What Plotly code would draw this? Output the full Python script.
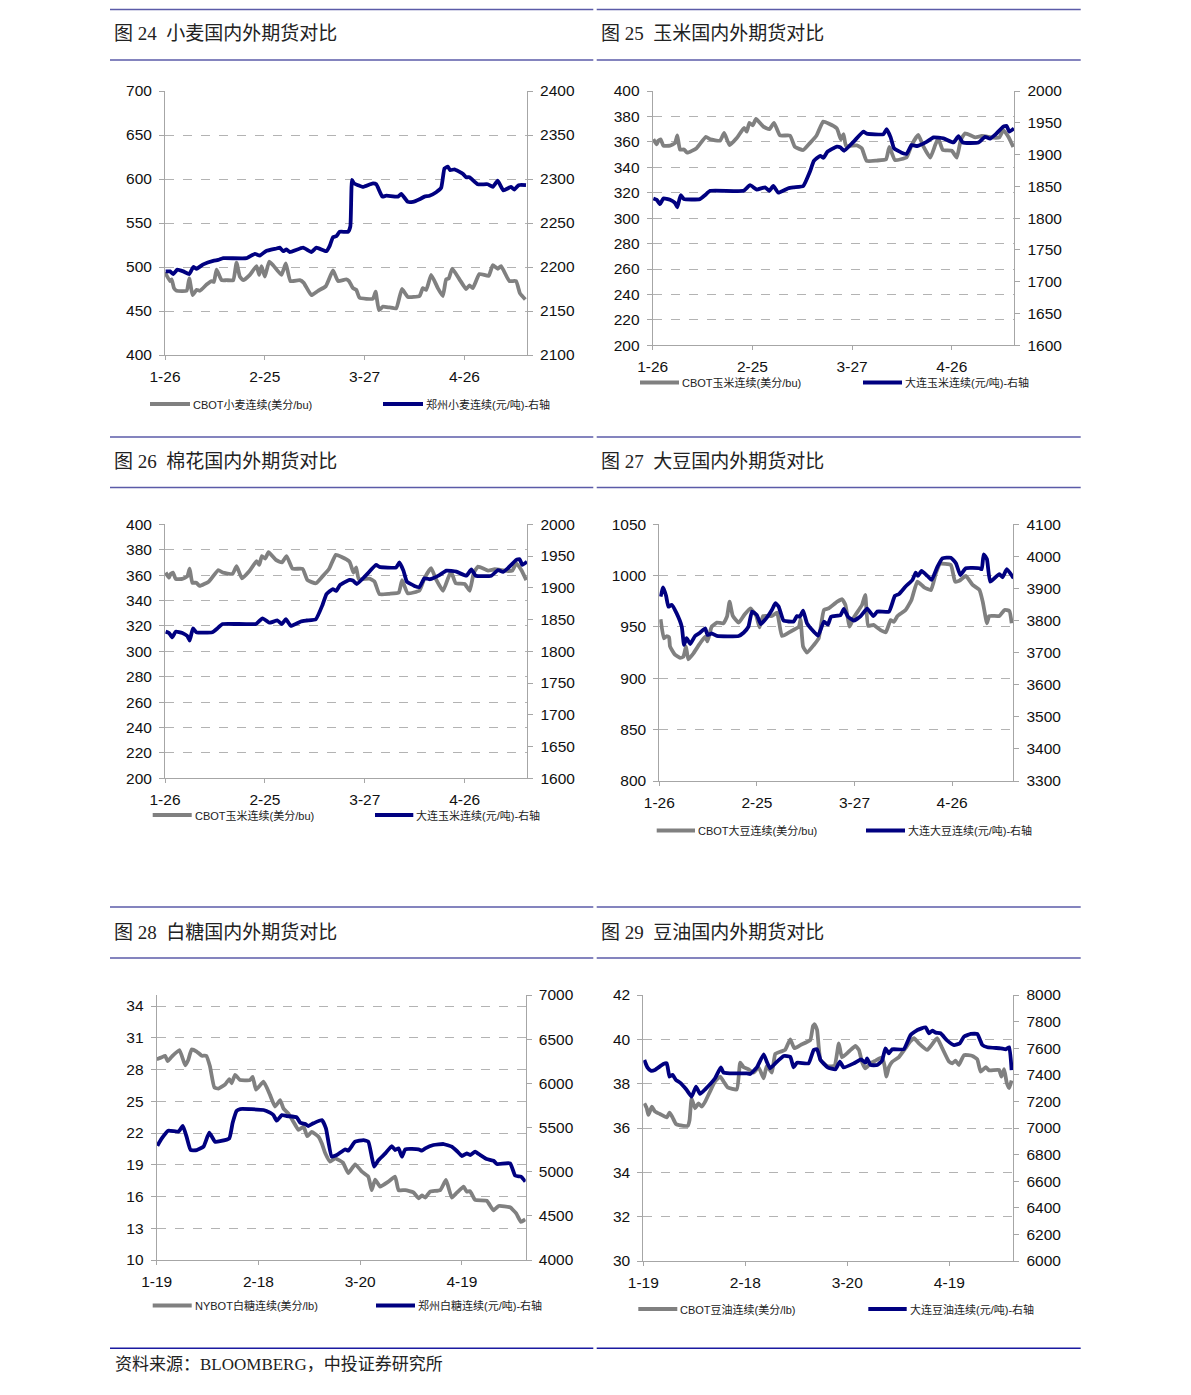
import plotly.graph_objects as go

W, H = 1191, 1395
OFF = 8  # the page body margin shifts the figure by this many pixels

# ---------------- data ----------------
# x values are calendar days counted from the first tick label of each chart
tick_days = [0, 30, 60, 90]
ticks_jan26 = ["1-26", "2-25", "3-27", "4-26"]
ticks_jan19 = ["1-19", "2-18", "3-20", "4-19"]

titles = ["图 24  小麦国内外期货对比", "图 25  玉米国内外期货对比",
          "图 26  棉花国内外期货对比", "图 27  大豆国内外期货对比",
          "图 28  白糖国内外期货对比", "图 29  豆油国内外期货对比"]
source_note = "资料来源：BLOOMBERG，中投证券研究所"

names_gray = ["CBOT小麦连续(美分/bu)", "CBOT玉米连续(美分/bu)", "CBOT玉米连续(美分/bu)",
              "CBOT大豆连续(美分/bu)", "NYBOT白糖连续(美分/lb)", "CBOT豆油连续(美分/lb)"]
names_blue = ["郑州小麦连续(元/吨)-右轴", "大连玉米连续(元/吨)-右轴", "大连玉米连续(元/吨)-右轴",
              "大连大豆连续(元/吨)-右轴", "郑州白糖连续(元/吨)-右轴", "大连豆油连续(元/吨)-右轴"]

# wheat
wheat_cbot_day = [0, 1.5, 2, 2.7, 3.5, 6.5, 7.3, 8.3, 9.5, 10.5, 12.5, 14, 14.7, 15.5, 17, 18.5,
                  20.5, 21.5, 22.5, 23.5, 25.5, 27.5, 28.3, 29, 30, 31.3, 32.5, 35, 36.3, 37.7,
                  40.5, 41.7, 44, 46, 48.3, 50.5, 52, 54.5, 55.3, 56.5, 57.5, 58.5, 62.5, 63.3,
                  64.3, 65.5, 67.5, 69.5, 71.2, 73, 76.5, 77.5, 78.5, 80, 82, 83.5, 84.5, 85.3,
                  86.3, 88.5, 90.5, 91.5, 92.5, 94.5, 97.3, 98.5, 100, 101, 103.5, 105.5, 106.7, 108.3]
wheat_cbot = [494, 484, 486, 476, 473, 473, 487, 468, 474, 473, 480, 484, 483, 497, 485, 485,
              485, 505, 489, 485, 491, 501, 491, 501, 489, 506, 502, 491, 504, 484,
              485, 482, 468, 473, 478, 496, 484, 486, 484, 476, 474, 465, 464, 472,
              451, 455, 454, 453, 475, 466, 467, 476, 474, 491, 476, 467, 486, 487,
              498, 486, 475, 479, 476, 492, 490, 502, 498, 501, 484, 484, 470, 463]
wheat_zz_day = [0.2, 1.5, 2.5, 3.7, 5.5, 7.3, 8.5, 9.5, 11.5, 14.5, 16, 17.5, 24.5, 27, 28.5,
                30.3, 33.5, 34.5, 35.5, 36.5, 37.5, 41.5, 44, 45.5, 48.5, 49.5, 50.5, 51.5,
                52.5, 55, 55.7, 56.2, 56.8, 58, 59.5, 62.5, 63.5, 65.3, 66.5, 70, 71, 73, 74.5,
                76.5, 78, 79.5, 81.5, 83, 84, 85, 85.7, 87, 89.5, 90.5, 91.5, 94, 97, 98.5, 100,
                101.7, 104, 105, 106.3, 108.5]
wheat_zz = [2195, 2195, 2192, 2197, 2195, 2192, 2200, 2198, 2203, 2207, 2208, 2210, 2210, 2215, 2213,
            2218, 2221, 2222, 2218, 2220, 2217, 2222, 2217, 2222, 2218, 2224, 2234, 2235,
            2240, 2240, 2246, 2299, 2295, 2293, 2291, 2295, 2294, 2280, 2281, 2280, 2283, 2274, 2274,
            2277, 2280, 2281, 2285, 2290, 2312, 2314, 2310, 2311, 2306, 2302, 2302, 2294, 2294, 2291, 2298,
            2287, 2291, 2288, 2293, 2293]

# corn (the cotton chart repeats the corn series)
corn_cbot_day = [0.2, 1.2, 1.7, 2.4, 3.2, 5.2, 6.7, 7.4, 8.2, 9.4, 10.4, 13.2, 16, 17.3, 20.3, 21.5,
                 23.1, 25.3, 27.5, 28.3, 29.1, 30.1, 31.1, 33.3, 35.1, 36.5, 38.3, 41.3, 42.8, 45.3,
                 47.3, 49.3, 51.3, 52.9, 55.4, 56.6, 57.4, 58.2, 61.4, 62.9, 64.4, 67.4, 70.2, 71.2,
                 72.9, 76.4, 77.9, 79.9, 81.4, 83.5, 85, 85.9, 87.3, 90, 91.5, 92.7, 94, 97, 99,
                 101, 102.5, 104.3, 105.5, 107, 108.5]
corn_cbot = [362, 358, 361, 362, 357, 357, 359, 365, 354, 354, 351.5, 355, 364, 362, 361, 367,
             357.5, 363, 371, 368, 375, 373, 378, 372, 370, 375, 365, 365, 356, 353.6,
             359, 365, 376, 374.5, 370.6, 362, 366, 356.7, 357.3, 355, 345, 345.3, 346.3, 356,
             345.7, 347.8, 357.5, 365.4, 356.7, 347.6, 357.5, 362.8, 353.6, 353, 347.6, 361.5, 366.7,
             363.6, 364.6, 364, 363.3, 363.6, 369.3, 364, 356]
corn_dl_day = [0.2, 1.2, 2.2, 3.2, 5.2, 6.7, 7.4, 8.4, 9.4, 14.2, 15.7, 17.3, 27.3, 29.3, 31.3,
               33.8, 35.1, 36.3, 37.8, 40.8, 42.5, 45.3, 47.3, 48.5, 50.4, 51.4, 52.6, 55.4, 56.4,
               57.6, 60.4, 63.4, 64.4, 69.4, 70.4, 71.6, 72.6, 74.9, 76.4, 77.9, 79.6, 82.4, 84.5,
               87.5, 90.5, 92, 93.3, 98, 100, 101.5, 103, 105.5, 106.5, 107.3, 108.7]
corn_dl = [1831, 1829, 1822, 1831, 1829, 1824, 1817, 1836, 1830, 1830, 1836, 1843, 1843, 1852, 1845,
           1848.5, 1843, 1850.6, 1840, 1847, 1848.5, 1850.6, 1873, 1890, 1898, 1895, 1904.6, 1912.5, 1911.5,
           1906, 1920, 1936, 1933, 1932, 1940, 1927, 1910, 1903, 1901, 1915, 1913.5, 1920, 1927,
           1925.6, 1919, 1929, 1919, 1919, 1928, 1925, 1931, 1944, 1945, 1936, 1941]

# soybean
soy_cbot_day = [0.4, 1.4, 2.3, 3, 3.3, 4.8, 6.4, 7.4, 8.2, 8.9, 10.5, 12.5, 14.1, 14.8, 16.1, 17.7,
                19.7, 20.8, 21.6, 22.6, 24.4, 26.1, 28, 29.8, 30.8, 31.9, 34.6, 36.2, 37.7, 40.3,
                42.9, 43.4, 44.2, 45.4, 47.5, 49, 50.6, 52.1, 54.7, 56.2, 57.2, 58.5, 59.8, 62.3,
                63.3, 64.2, 65.8, 68, 69.6, 71.1, 72.1, 73.2, 75.7, 77.5, 79.3, 81.4, 83.5, 85,
                86.3, 89.6, 90.9, 92.2, 94.2, 96.3, 98.4, 99.4, 100.7, 101.4, 104.5, 106.1, 107.6, 108.3]
soy_cbot = [957.5, 939, 941, 940, 931, 923, 920, 921, 931, 918.5, 924.4, 934, 940.6, 936, 950.3, 954.2,
            953.6, 960, 974.7, 960.7, 954.2, 961.7, 968.2, 960.7, 949.7, 960.7, 960.7, 964, 941.2, 945.5,
            950.3, 957.5, 930.8, 925, 932.5, 939, 966.6, 968.2, 974.7, 977, 971.5, 950.3, 959.4, 971.4,
            981.2, 951, 952, 947, 944.8, 956.8, 955, 960.7, 966.6, 976.3, 994.2, 988.6, 986, 1002.3,
            1011.4, 1010.4, 994.2, 995, 999.7, 990.9, 986, 974.7, 953.6, 960.7, 960.7, 966.6, 965.6, 953.6]
soy_dl_day = [0.4, 1.2, 2.1, 2.8, 3.8, 5.3, 6.9, 7.6, 8.4, 9.5, 11, 12.5, 14.1, 14.8, 16.1, 17.7,
              24.4, 25.9, 27.4, 28.5, 30, 31.2, 33.1, 34.6, 35.7, 36.7, 38.2, 41.3, 42.3, 43.2,
              44.2, 45.4, 47.5, 48.8, 50.6, 51.8, 52.8, 55.7, 56.7, 58, 59.8, 61.9, 63.9, 65.8,
              67, 70.6, 72.4, 73.7, 75.7, 77.8, 78.8, 79.5, 80.6, 82.4, 83.7, 85.5, 87, 89.6,
              91.2, 92.5, 94.2, 98.4, 99.1, 99.7, 100.7, 101.7, 104.5, 105.5, 106.8, 108.9]
soy_dl = [3874.5, 3903.6, 3876.6, 3843, 3849, 3823, 3781, 3724, 3745, 3727, 3752, 3762, 3776, 3755, 3760, 3752,
          3752, 3762, 3781, 3828, 3817, 3789, 3810, 3833, 3854, 3843, 3800, 3797, 3814, 3812,
          3831, 3791, 3765, 3753, 3797, 3787, 3812, 3817, 3836, 3812, 3800, 3814, 3837, 3814,
          3828, 3828, 3877, 3883, 3906, 3926.5, 3949, 3939, 3954.5, 3939, 3926.5, 3968, 3994, 3996,
          3978, 3942, 3963, 3963, 3960, 4006.5, 3991, 3921, 3945, 3935, 3960, 3932]

# sugar
sugar_ny_day = [0, 1.5, 2.5, 3.2, 4.4, 6.7, 8.4, 9.3, 10.3, 11.8, 13.3, 14.6, 15.7, 17, 18.2, 20.2,
                21.4, 22.1, 23.1, 24.6, 27.5, 28.3, 29.3, 31.5, 33.4, 34.9, 36.4, 37.4, 38.8, 40.3,
                41.8, 43.3, 44.4, 45.7, 47.7, 48.7, 49.7, 51.1, 52.6, 54.9, 56.5, 58.5, 60.5, 62.4,
                63.4, 64.4, 65.9, 68.3, 70.3, 71.3, 73.3, 75.7, 77.2, 78.2, 79.2, 80.6, 83.6, 85.3,
                87, 88.5, 90.5, 91.4, 92.4, 93.9, 97.3, 99.3, 100.8, 104.2, 106, 107.4, 108.7]
sugar_ny = [28.96, 29.15, 29.3, 28.8, 29.2, 29.84, 28.4, 28.9, 29.9, 29.7, 29.3, 29.3, 28.3, 26.3, 26.2, 26.6,
            27.1, 26.7, 27.5, 27, 27, 27.3, 26.1, 26.85, 25.6, 24.5, 25.1, 24.3, 23.86, 23.07,
            22.3, 22.6, 21.7, 22.1, 21.65, 21, 20.08, 19.3, 19.6, 19.2, 18.2, 19.04, 18.35, 17.87,
            16.6, 17.6, 16.93, 17.4, 17.87, 16.6, 16.6, 16.4, 15.83, 16.1, 15.9, 16.46, 16.6, 17.56,
            15.9, 16.36, 16.93, 16.46, 16.5, 15.67, 15.6, 14.7, 15.1, 14.98, 14.4, 13.6, 13.84]
sugar_zz_day = [0.2, 1.5, 3.4, 6.4, 7.7, 8.8, 10, 11.8, 13.8, 15.5, 17.2, 18.7, 21.4, 22.4, 23.6, 24.6,
                31.5, 33.4, 34.4, 35.4, 36.9, 38.3, 41.3, 42.3, 43.8, 44.7, 46.2, 48.7, 49.9, 51.6,
                53.1, 55.6, 56.5, 58.5, 61, 62.4, 63.4, 64.1, 65.4, 67.4, 69.3, 70.3, 71.3, 72.3,
                73.3, 77.2, 78.2, 79.2, 81.6, 84.6, 87, 88.5, 90, 91.4, 92.4, 93.9, 95.4, 97.3,
                99.3, 100.3, 104.2, 105.7, 107.4, 108.7]
sugar_zz = [5294, 5377, 5464, 5453, 5517, 5396, 5245, 5245, 5283, 5441, 5339, 5345, 5377, 5555, 5690, 5709,
            5698, 5668, 5641, 5577, 5641, 5630, 5615, 5555, 5539, 5517, 5547, 5585, 5490, 5170,
            5188, 5253, 5238, 5339, 5358, 5339, 5170, 5056, 5132, 5207, 5290, 5245, 5264, 5170,
            5253, 5253, 5238, 5264, 5302, 5313, 5283, 5234, 5177, 5207, 5188, 5226, 5188, 5143,
            5124, 5087, 5094, 4955, 4943, 4887]

# soybean oil
oil_cbot_day = [0.3, 1, 1.5, 2.5, 3.4, 4.9, 6.9, 7.7, 8.6, 9.6, 11.8, 13.1, 13.6, 14.2, 15.2, 16.2,
                17.2, 18.2, 19.6, 21.1, 22.6, 23.6, 24.8, 27.5, 28.5, 29.5, 30.9, 32.4, 33.9, 35.4,
                36.3, 37.8, 38.8, 40.3, 41.7, 43.2, 44.4, 46.2, 49.1, 49.9, 50.4, 51.1, 52.1, 54,
                56.2, 57.5, 58.4, 60.4, 62.4, 63.4, 64.3, 65.3, 66.8, 68.3, 70.2, 70.9, 71.5, 72.2,
                73.2, 75.1, 77.1, 78.4, 79.6, 81, 83.5, 86.4, 87.9, 89.9, 90.9, 91.8, 92.8, 94.3,
                96.8, 98.2, 99.2, 100.7, 101.7, 104.6, 105.3, 106.1, 106.9, 107.6, 108.3]
oil_cbot = [37.11, 36.9, 36.59, 36.96, 36.75, 36.63, 36.48, 36.69, 36.48, 36.18, 36.1, 36.1, 36.35, 37.34, 36.89, 37.11,
            36.96, 37.19, 37.64, 38.1, 38.32, 38.1, 37.83, 37.74, 38.95, 38.74, 38.65, 38.5, 38.74, 38.24,
            38.8, 38.5, 39.34, 39.44, 39.52, 40, 39.6, 39.74, 39.97, 40.6, 40.68, 40.42, 39.07, 38.8,
            38.8, 39.82, 39.19, 39.44, 39.7, 39.52, 38.99, 38.69, 38.92, 39.04, 39.19, 38.84, 38.32, 38.74,
            38.99, 39.19, 39.6, 39.89, 40.05, 39.82, 39.52, 40.05, 39.6, 38.99, 38.92, 39.04, 38.84, 39.29,
            39.25, 39.1, 38.54, 38.74, 38.6, 38.62, 38.32, 38.65, 38.02, 37.8, 38.14]
oil_dl_day = [0.3, 1.2, 2.2, 3.4, 5.9, 6.9, 7.7, 8.6, 9.6, 10.8, 12.6, 14.2, 15.5, 16.7, 18.2, 21.1,
              22.8, 23.6, 25.5, 30.5, 31.4, 33.4, 35.4, 36.3, 37.3, 38.8, 41.3, 43.2, 44.2, 45.2,
              48.6, 50.1, 51.1, 52.1, 54.2, 56.5, 57.8, 58.9, 61.9, 64, 65.3, 65.8, 66.8, 68.8,
              70.2, 71.2, 72.2, 73.2, 76.6, 78.6, 80.6, 83, 84, 85, 86, 87.4, 89.4, 91.4,
              93.1, 94.3, 96.3, 98.2, 99.7, 101.2, 105.1, 106.6, 107.6, 108.3]
oil_dl = [7511, 7456, 7431, 7436, 7481, 7486, 7386, 7399, 7361, 7341, 7291, 7236, 7311, 7256, 7291, 7374,
          7456, 7416, 7411, 7411, 7406, 7456, 7554, 7499, 7449, 7486, 7541, 7536, 7456, 7491,
          7486, 7587, 7592, 7511, 7456, 7441, 7499, 7456, 7486, 7516, 7491, 7524, 7474, 7474,
          7506, 7599, 7561, 7592, 7592, 7699, 7737, 7757, 7712, 7732, 7717, 7712, 7657, 7624,
          7637, 7687, 7707, 7707, 7624, 7607, 7599, 7592, 7607, 7436]

# ---------------- layout ----------------
GRAY = "#808080"
NAVY = "#000080"
AXIS = "#a6a6a6"
FONT_NUM = "Liberation Sans, Arial, sans-serif"
FONT_CJK = "Liberation Sans, Noto Sans CJK SC, sans-serif"
FONT_TITLE = "Liberation Serif, Noto Sans CJK SC, serif"


def fx(x):
    return (x - OFF) / W


def fy(y):
    return 1 - (y - OFF) / H


series = [
    (wheat_cbot_day, wheat_cbot, wheat_zz_day, wheat_zz, ticks_jan26),
    (corn_cbot_day, corn_cbot, corn_dl_day, corn_dl, ticks_jan26),
    (corn_cbot_day, corn_cbot, corn_dl_day, corn_dl, ticks_jan26),
    (soy_cbot_day, soy_cbot, soy_dl_day, soy_dl, ticks_jan26),
    (sugar_ny_day, sugar_ny, sugar_zz_day, sugar_zz, ticks_jan19),
    (oil_cbot_day, oil_cbot, oil_dl_day, oil_dl, ticks_jan19),
]

# plot box (left, right, top, bottom), axis settings, legend geometry
panels = [
    dict(box=(165, 527, 91, 355), left=(400, 700, 400, 50), right=(2100, 2400, 2100, 50),
         leg=(404, 150, 190, 383, 423), title=(112, 34)),
    dict(box=(652.7, 1014.3, 91, 345.3), left=(200, 400, 200, 20), right=(1600, 2000, 1600, 50),
         leg=(382.5, 640, 679, 863, 902), title=(599, 34)),
    dict(box=(165, 527.3, 524.3, 778.3), left=(200, 400, 200, 20), right=(1600, 2000, 1600, 50),
         leg=(815, 152.7, 191.7, 375, 413.3), title=(112, 462)),
    dict(box=(659.3, 1013.3, 524.3, 781), left=(800, 1050, 800, 50), right=(3300, 4100, 3300, 100),
         leg=(830.5, 656.7, 695, 866, 905), title=(599, 462)),
    dict(box=(156.7, 525.7, 995, 1260), left=(10, 35.04, 10, 3), right=(4000, 7000, 4000, 500),
         leg=(1305.5, 152.7, 191.7, 376, 415), title=(112, 932)),
    dict(box=(643.3, 1013.3, 995, 1261), left=(30, 42, 30, 2), right=(6000, 8000, 6000, 200),
         leg=(1309, 638.3, 677.3, 868.3, 906.7), title=(599, 932)),
]

fig = go.Figure()
layout = {}
shapes = []
annotations = []

for k, (p, s) in enumerate(zip(panels, series), start=1):
    gx, gy, bx, by, tlabels = s
    L, R, T, B = p["box"]
    xi = "x" if k == 1 else f"x{k}"
    yl_i = 2 * k - 1
    yr_i = 2 * k
    yl = "y" if yl_i == 1 else f"y{yl_i}"
    yr = f"y{yr_i}"

    fig.add_trace(go.Scatter(x=gx, y=gy, xaxis=xi, yaxis=yl, mode="lines",
                             line=dict(color=GRAY, width=3.8, shape="spline", smoothing=0.4),
                             showlegend=False, hoverinfo="skip"))
    fig.add_trace(go.Scatter(x=bx, y=by, xaxis=xi, yaxis=yr, mode="lines",
                             line=dict(color=NAVY, width=3.8, shape="spline", smoothing=0.4),
                             showlegend=False, hoverinfo="skip"))

    layout["xaxis" if k == 1 else f"xaxis{k}"] = dict(
        domain=[fx(L), fx(R)], anchor=yl, range=[0, 108.8], automargin=False,
        tickmode="array", tickvals=tick_days, ticktext=tlabels,
        showline=True, linecolor=AXIS, linewidth=1, ticks="outside", ticklen=4,
        tickcolor=AXIS, showgrid=False, zeroline=False, ticklabelstandoff=3,
        tickfont=dict(family=FONT_NUM, size=15.5, color="#111"))
    lo, hi, t0, dt = p["left"]
    layout["yaxis" if yl_i == 1 else f"yaxis{yl_i}"] = dict(
        domain=[fy(B), fy(T)], anchor=xi, range=[lo, hi], tick0=t0, dtick=dt, automargin=False,
        showline=True, linecolor=AXIS, linewidth=1, ticks="outside", ticklen=5,
        tickcolor=AXIS, showgrid=True, gridcolor="#b3b3b3", griddash="dash", gridwidth=1,
        zeroline=False, ticklabelstandoff=4,
        tickfont=dict(family=FONT_NUM, size=15.5, color="#111"))
    lo, hi, t0, dt = p["right"]
    layout[f"yaxis{yr_i}"] = dict(
        overlaying=yl, side="right", anchor=xi, range=[lo, hi], tick0=t0, dtick=dt,
        automargin=False,
        showline=True, linecolor=AXIS, linewidth=1, ticks="outside", ticklen=5,
        tickcolor=AXIS, showgrid=False, zeroline=False, ticklabelstandoff=4,
        tickfont=dict(family=FONT_NUM, size=15.5, color="#111"))

    # legend
    ly, g0, g1, b0, b1 = p["leg"]
    shapes.append(dict(type="line", xref="paper", yref="paper", x0=fx(g0), x1=fx(g1),
                       y0=fy(ly), y1=fy(ly), line=dict(color=GRAY, width=4)))
    shapes.append(dict(type="line", xref="paper", yref="paper", x0=fx(b0), x1=fx(b1),
                       y0=fy(ly), y1=fy(ly), line=dict(color=NAVY, width=4)))
    annotations.append(dict(x=fx(g1 + 1), y=fy(ly), xref="paper", yref="paper",
                            text=names_gray[k - 1], showarrow=False, xanchor="left",
                            yanchor="middle", font=dict(family=FONT_CJK, size=11, color="#222")))
    annotations.append(dict(x=fx(b1 + 1), y=fy(ly), xref="paper", yref="paper",
                            text=names_blue[k - 1], showarrow=False, xanchor="left",
                            yanchor="middle", font=dict(family=FONT_CJK, size=11, color="#222")))

    # title
    tx, ty = p["title"]
    annotations.append(dict(x=fx(tx), y=fy(ty), xref="paper", yref="paper",
                            text=titles[k - 1], showarrow=False, xanchor="left",
                            yanchor="middle", font=dict(family=FONT_TITLE, size=19, color="#222")))

# header rules above and below each title
for y in (9.5, 60, 437, 487.5, 907, 958):
    for x0, x1 in ((110, 593.3), (596.7, 1080.7)):
        shapes.append(dict(type="line", xref="paper", yref="paper", x0=fx(x0), x1=fx(x1),
                           y0=fy(y), y1=fy(y), line=dict(color="#5b5ba8", width=1.5)))
for x0, x1 in ((110, 593.3), (596.7, 1080.7)):
    shapes.append(dict(type="line", xref="paper", yref="paper", x0=fx(x0), x1=fx(x1),
                       y0=fy(1348.3), y1=fy(1348.3), line=dict(color="#1a1aa0", width=1.5)))
annotations.append(dict(x=fx(113), y=fy(1364), xref="paper", yref="paper", text=source_note,
                        showarrow=False, xanchor="left", yanchor="middle",
                        font=dict(family=FONT_TITLE, size=17, color="#222")))

fig.update_layout(width=W, height=H, margin=dict(l=0, r=0, t=0, b=0, autoexpand=False),
                  paper_bgcolor="white", plot_bgcolor="white",
                  shapes=shapes, annotations=annotations, **layout)

fig.write_html("out.html")
